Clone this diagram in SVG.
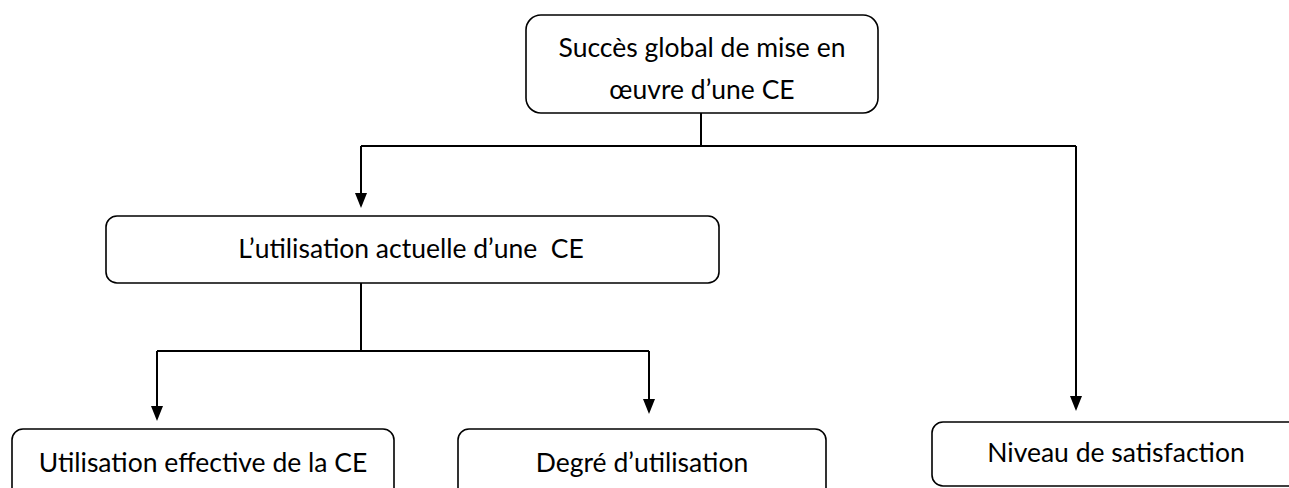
<svg xmlns="http://www.w3.org/2000/svg" width="1289" height="488" viewBox="0 0 1289 488">
<style>
.box{fill:#fff;stroke:#000;stroke-width:1.6}
.t{font-family:Lato,"Open Sans","Liberation Sans",sans-serif;font-size:26.5px;fill:#000;text-anchor:middle;white-space:pre}
.c{fill:none;stroke:#000;stroke-width:2}
.h{fill:#000}
</style>
<g id="connectors">
<path class="c" d="M701,113 V146"/>
<path class="c" d="M361,146 H1076"/>
<line class="c" x1="361" y1="146" x2="361" y2="193"/>
<path class="h" d="M355,193 L367,193 L361,208 Z"/>
<line class="c" x1="1076" y1="146" x2="1076" y2="396"/>
<path class="h" d="M1070,396 L1082,396 L1076,411 Z"/>
<path class="c" d="M361,283 V351"/>
<path class="c" d="M157,351 H649"/>
<line class="c" x1="157" y1="351" x2="157" y2="406"/>
<path class="h" d="M151,406 L163,406 L157,421 Z"/>
<line class="c" x1="649" y1="351" x2="649" y2="399"/>
<path class="h" d="M643,399 L655,399 L649,414 Z"/>
</g>
<g id="n-top">
<rect class="box" x="526" y="15" width="352" height="98" rx="15"/>
<text class="t" x="702" y="57">Succès global de mise en</text>
<text class="t" x="702" y="99">œuvre d’une CE</text>
</g>
<g id="n-util">
<rect class="box" x="106" y="216" width="613" height="67" rx="11"/>
<text class="t" x="411" y="258">L’utilisation actuelle d’une  CE</text>
</g>
<g id="n-eff">
<rect class="box" x="12" y="429" width="382" height="70" rx="11"/>
<text class="t" x="203" y="472">Utilisation effective de la CE</text>
</g>
<g id="n-deg">
<rect class="box" x="458" y="429" width="368" height="70" rx="11"/>
<text class="t" x="642" y="472">Degré d’utilisation</text>
</g>
<g id="n-niv">
<rect class="box" x="932" y="422" width="370" height="64" rx="11"/>
<text class="t" x="1116" y="462">Niveau de satisfaction</text>
</g>
</svg>
